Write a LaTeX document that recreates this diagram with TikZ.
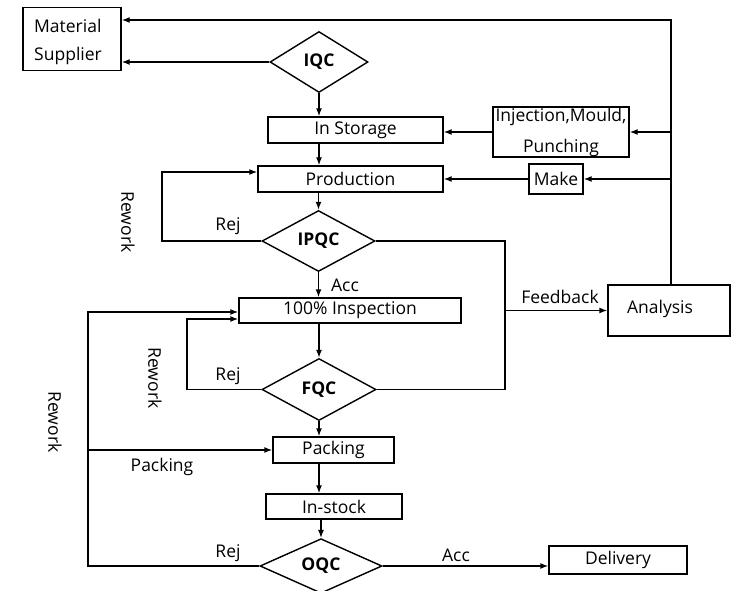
\documentclass[tikz,border=0pt]{standalone}
\usepackage{fontspec}
\setmainfont{Open Sans}
\usetikzlibrary{shapes.geometric,arrows.meta}
\begin{document}
\begin{tikzpicture}[x=1pt,y=-1pt,
 box/.style={draw,line width=1.4pt,rectangle,inner sep=0pt,font=\fontsize{17.5}{31}\selectfont},
 dec/.style={draw,line width=1.4pt,diamond,inner sep=0pt,font=\bfseries\fontsize{17.5}{19}\selectfont},
 line/.style={line width=1.4pt},
 arr/.style={line width=1.4pt,-{Latex[length=8pt,width=6pt]}},
 lbl/.style={font=\fontsize{17.5}{19}\selectfont,inner sep=0pt}]
\useasboundingbox (0,0) rectangle (750,591);
% nodes
\node[box,minimum width=98pt,minimum height=63pt] (sup) at (72,39) {};
\node[lbl,align=left,font=\fontsize{17.5}{28.5}\selectfont] (supt) at (68,42) {Material\\Supplier};
\node[dec,minimum width=98pt,minimum height=61pt] (iqc) at (319,62) {IQC};
\node[box,minimum width=175pt,minimum height=26pt] (sto) at (355.5,130) {In Storage};
\node[box,minimum width=185pt,minimum height=26pt] (prod) at (350.5,179) {Production};
\node[box,minimum width=136pt,minimum height=50pt,align=center] (inj) at (561,132) {Injection,Mould,\\Punching};
\node[box,minimum width=54pt,minimum height=30pt] (make) at (556,179) {Make};
\node[dec,minimum width=113pt,minimum height=61pt] (ipqc) at (318.5,241) {IPQC};
\node[box,minimum width=222pt,minimum height=25pt] (insp) at (350,310.5) {100\% Inspection};
\node[box,minimum width=122pt,minimum height=51pt] (ana) at (669,310.5) {};
\node[lbl] (anat) at (660,309) {Analysis};
\node[dec,minimum width=114pt,minimum height=62pt] (fqc) at (319,389.5) {FQC};
\node[box,minimum width=121pt,minimum height=26pt] (pack) at (333.5,450) {Packing};
\node[box,minimum width=136pt,minimum height=25pt] (stock) at (334,506.5) {In-stock};
\node[dec,minimum width=122pt,minimum height=43pt] (oqc) at (321,566) {OQC};
\node[box,minimum width=138pt,minimum height=28pt] (del) at (618,560) {Delivery};
% helper coordinates
\coordinate (top) at (671,20);
\coordinate (c1) at (162,172);
\coordinate (f1) at (505,310.5);
\coordinate (c2) at (187,319);
\coordinate (c3) at (88,312);
\coordinate (c4) at (88,450);
% connectors
\draw[arr] (ana.north -| top) -- (top) -- (top -| sup.east);
\draw[arr] (top |- inj.east) -- (inj.east);
\draw[arr] (top |- make.east) -- (make.east);
\draw[arr] (iqc.west) -- (iqc.west -| sup.east);
\draw[arr] (iqc.south) -- (iqc.south |- sto.north);
\draw[arr] (inj.west) -- (inj.west -| sto.east);
\draw[arr] (sto.south -| iqc.south) -- (prod.north -| iqc.south);
\draw[arr] (make.west) -- (make.west -| prod.east);
\draw[arr] (prod.south -| ipqc.north) -- (ipqc.north);
\draw[arr] (ipqc.west) -| (c1) -- (c1 -| prod.west);
\draw[arr] (ipqc.south) -- (ipqc.south |- insp.north);
\draw[line] (ipqc.east) -| (f1) |- (fqc.east);
\draw[arr] (f1) -- (ana.west);
\draw[arr] (insp.south -| fqc.north) -- (fqc.north);
\draw[arr] (fqc.west) -| (c2) -- (c2 -| insp.west);
\draw[arr] (oqc.west) -| (c3) -- (c3 -| insp.west);
\draw[arr] (c4) -- (pack.west);
\draw[arr] (fqc.south) -- (fqc.south |- pack.north);
\draw[arr] (pack.south -| fqc.south) -- (stock.north -| fqc.south);
\draw[arr] (stock.south -| oqc.north) -- (oqc.north);
\draw[arr] (oqc.east) -- (oqc.east -| del.west);
% labels
\node[lbl] (l1) at (228,226) {Rej};
\node[lbl] (l2) at (228,376) {Rej};
\node[lbl] (l3) at (228,553) {Rej};
\node[lbl] (l4) at (345,285) {Acc};
\node[lbl] (l5) at (456,555) {Acc};
\node[lbl] (l6) at (560,297) {Feedback};
\node[lbl] (l7) at (162,467) {Packing};
\node[lbl,rotate=-90] (l8) at (128,222) {Rework};
\node[lbl,rotate=-90] (l9) at (155,378) {Rework};
\node[lbl,rotate=-90] (l10) at (55,422) {Rework};
\end{tikzpicture}
\end{document}
